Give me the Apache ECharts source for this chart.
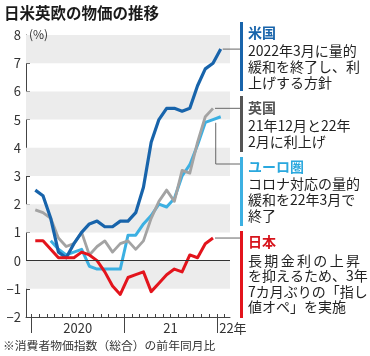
<!DOCTYPE html>
<html><head><meta charset="utf-8">
<script src="https://cdn.jsdelivr.net/npm/echarts@6/dist/echarts.min.js"></script>
<style>html,body{margin:0;padding:0;background:#fff}#c{width:370px;height:356px}</style>
</head><body><div id="c"></div>
<script>
// Monthly CPI (YoY %), Jan 2020 .. Jan 2022
const months = ['2020-01','2020-02','2020-03','2020-04','2020-05','2020-06','2020-07','2020-08','2020-09','2020-10','2020-11','2020-12',
                '2021-01','2021-02','2021-03','2021-04','2021-05','2021-06','2021-07','2021-08','2021-09','2021-10','2021-11','2021-12','2022-01'];
const usCPI    = [2.5,2.3,1.5,0.3,0.1,0.6,1.0,1.3,1.4,1.2,1.2,1.4, 1.4,1.7,2.6,4.2,5.0,5.4,5.4,5.3,5.4,6.2,6.8,7.0, 7.5];
const ukCPI    = [1.8,1.7,1.5,0.8,0.5,0.6,1.0,0.2,0.5,0.7,0.3,0.6, 0.7,0.4,0.7,1.5,2.1,2.5,2.1,3.2,3.1,4.2,5.1,5.4, null];
const euroCPI  = [null,null,0.7,0.4,0.2,0.3,0.4,-0.2,-0.3,-0.3,-0.3,-0.3, 0.9,0.9,1.3,1.6,2.0,1.9,2.2,3.0,3.4,4.1,4.9,5.0,5.1];
const japanCPI = [0.7,0.7,0.4,0.1,0.1,0.1,0.3,0.2,0.0,-0.4,-0.9,-1.2, -0.6,-0.5,-0.4,-1.1,-0.8,-0.5,-0.3,-0.4,0.2,0.1,0.6,0.8, null];
const yearLabels = ['2020','21','22年'];
const yearStarts = [0,12,24];
const bands = [[7,8],[5,6],[3,4],[1,2],[-1,0]];

const FONT = '"Noto Sans CJK JP", "Noto Sans", sans-serif';
const C_US = '#1864ab', C_UK = '#a3a3a3', C_EU = '#3cb0e2', C_JP = '#e3141c';

function pts(arr){ const o=[]; arr.forEach((v,i)=>{ if(v!==null) o.push([i+0.5, v]); }); return o; }
const minorTicks = months.map((m,i)=>i).concat([months.length]);

const chart = echarts.init(document.getElementById('c'), null, {renderer:'canvas'});
const lineBase = {type:'line', symbol:'none', smooth:false, lineStyle:{width:3, join:'round', cap:'round'}, z:3, silent:true};

chart.setOption({
  animation:false,
  backgroundColor:'#fff',
  grid:{left:26, right:140, top:35, bottom:39, containLabel:false, outerBoundsMode:'none'},
  xAxis:[
    {type:'value', min:-0.7, max:25.7, position:'bottom',
     axisLine:{show:true, onZero:false, lineStyle:{color:'#444', width:1}},
     axisTick:{show:true, inside:true, length:3, customValues:minorTicks, lineStyle:{color:'#444'}},
     axisLabel:{show:true, customValues:[6,18], margin:5, color:'#333', fontSize:13, fontFamily:FONT,
       formatter:(v)=> v<12 ? yearLabels[0] : yearLabels[1]},
     splitLine:{show:false}},
    {type:'value', min:-0.7, max:25.7, position:'bottom', gridIndex:0,
     axisLine:{show:false, onZero:false},
     axisTick:{show:true, inside:false, length:16, customValues:yearStarts, lineStyle:{color:'#444', width:1}},
     axisLabel:{show:true, customValues:[24.3], align:'left', margin:5, color:'#333', fontSize:13, fontFamily:FONT,
       formatter:()=>yearLabels[2]},
     splitLine:{show:false}}
  ],
  yAxis:{type:'value', min:-2, max:8, interval:1,
    axisLine:{show:true, onZero:false, lineStyle:{color:'#444', width:1}},
    axisTick:{show:true, inside:true, length:4, lineStyle:{color:'#444'}},
    axisLabel:{color:'#333', fontSize:13, fontFamily:FONT, margin:5,
      formatter:(v)=> String(v).replace('-', '−')},
    splitLine:{show:false}},
  series:[
    Object.assign({}, lineBase, {name:'ユーロ圏', data:pts(euroCPI), lineStyle:{width:3, color:C_EU, join:'round'}, itemStyle:{color:C_EU},
      markArea:{silent:true, itemStyle:{color:'#ececec'}, z:1,
        data: bands.map(b=>[{yAxis:b[0]},{yAxis:b[1]}])},
      markLine:{silent:true, symbol:'none', label:{show:false}, lineStyle:{color:'#333', width:1.2, type:'solid'},
        data:[{yAxis:0}]}}),
    Object.assign({}, lineBase, {name:'英国', data:pts(ukCPI), lineStyle:{width:2.8, color:C_UK, join:'round'}, itemStyle:{color:C_UK}}),
    Object.assign({}, lineBase, {name:'米国', data:pts(usCPI), lineStyle:{width:3.2, color:C_US, join:'round'}, itemStyle:{color:C_US}}),
    Object.assign({}, lineBase, {name:'日本', data:pts(japanCPI), lineStyle:{width:3, color:C_JP, join:'round'}, itemStyle:{color:C_JP}})
  ]
});

// ---------- annotations ----------
function lastPx(arr){
  let i = arr.length-1; while(arr[i]===null) i--;
  return chart.convertToPixel({xAxisIndex:0, yAxisIndex:0}, [i+0.5, arr[i]]);
}
const BX = 240;
const g = [];
function txt(s, x, y, opt){
  g.push({type:'text', silent:true, z:10, style:Object.assign({text:s, x:x, y:y, fill:'#222', font:'14px '+FONT, verticalAlign:'middle', align:'left'}, opt||{})});
}
function justify(s, x, y, w, size){
  const chars = Array.from(s); const step = (w - size)/(chars.length-1);
  chars.forEach((ch,k)=> txt(ch, x + k*step, y));
}
function bar(y0, y1, color){ g.push({type:'rect', silent:true, z:10, shape:{x:BX, y:y0, width:3, height:y1-y0}, style:{fill:color}}); }
function conn(points){ g.push({type:'polyline', silent:true, z:10, shape:{points:points}, style:{stroke:'#666', lineWidth:1, fill:null}}); }

// title, unit, footnote
txt('日米英欧の物価の推移', 4, 13, {font:'bold 15.5px '+FONT, fill:'#1a1a1a'});
txt('(%)', 29, 34, {font:'12px '+FONT, fill:'#333'});
txt('※消費者物価指数（総合）の前年同月比', 3, 346, {font:'11.8px '+FONT, fill:'#333'});

const TX = 248;
// US
bar(22, 91, C_US);
txt('米国', TX, 33, {font:'bold 14px '+FONT, fill:'#1864ab'});
txt('2022年3月に量的', TX, 51);
txt('緩和を終了し、利', TX, 67);
txt('上げする方針', TX, 83);
// UK
bar(96, 152, '#555');
txt('英国', TX, 108, {font:'bold 14px '+FONT, fill:'#555'});
txt('21年12月と22年', TX, 126);
txt('2月に利上げ', TX, 142);
// Euro
bar(157, 226, C_EU);
txt('ユーロ圏', TX, 167, {font:'bold 14px '+FONT, fill:'#2aa8de'});
txt('コロナ対応の量的', TX, 184);
txt('緩和を22年3月で', TX, 200);
txt('終了', TX, 216);
// Japan
bar(231, 318, C_JP);
txt('日本', TX, 242, {font:'bold 14px '+FONT, fill:'#d7141c'});
justify('長期金利の上昇', TX, 260.5, 112, 14);
txt('を抑えるため、3年', TX, 276);
txt('7カ月ぶりの「指し', TX, 291.5);
txt('値オペ」を実施', TX, 307);

// connectors from series ends to notes
const pUS = lastPx(usCPI), pUK = lastPx(ukCPI), pEU = lastPx(euroCPI), pJP = lastPx(japanCPI);
conn([[pUS[0]+2, pUS[1]], [BX, pUS[1]]]);
conn([[pUK[0]+2, pUK[1]], [BX, pUK[1]]]);
conn([[pEU[0]-5, pEU[1]+6], [pEU[0]-5, 164], [BX, 164]]);
conn([[pJP[0]+2, pJP[1]], [BX, pJP[1]]]);

chart.setOption({graphic:{elements:g}});
</script></body></html>
